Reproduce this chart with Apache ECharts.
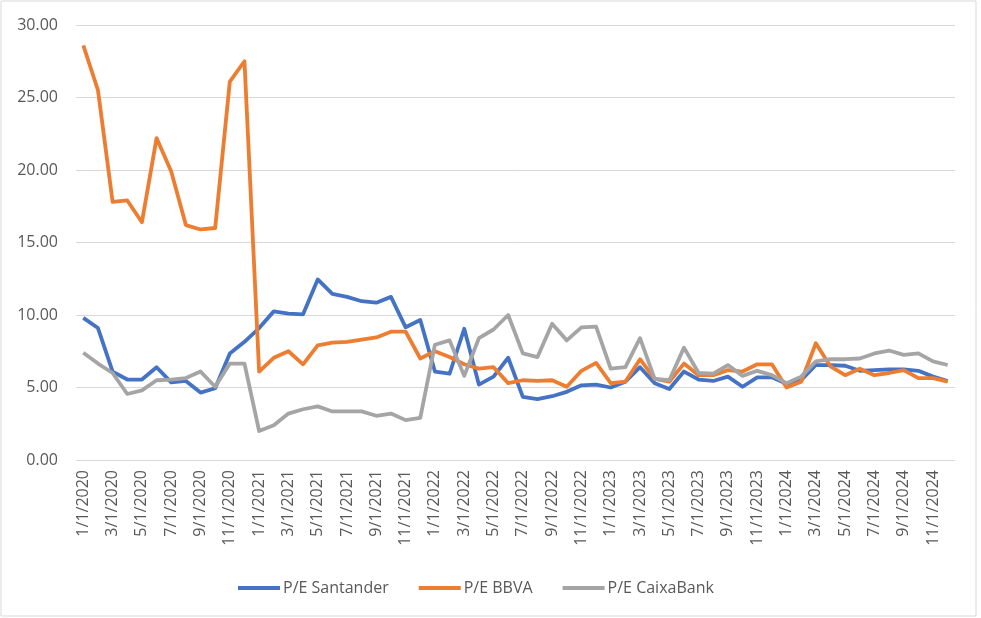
<!DOCTYPE html>
<html>
<head>
<meta charset="utf-8">
<script src="https://cdn.jsdelivr.net/npm/echarts@6/dist/echarts.min.js"></script>
<style>
  html, body { margin: 0; padding: 0; background: #fff; }
  #main { width: 981px; height: 618px; }
</style>
</head>
<body>
<div id="main"></div>
<script>
// monthly dates, 1/1/2020 .. 12/1/2024
var months = [
  '1/1/2020','2/1/2020','3/1/2020','4/1/2020','5/1/2020','6/1/2020','7/1/2020','8/1/2020','9/1/2020','10/1/2020','11/1/2020','12/1/2020',
  '1/1/2021','2/1/2021','3/1/2021','4/1/2021','5/1/2021','6/1/2021','7/1/2021','8/1/2021','9/1/2021','10/1/2021','11/1/2021','12/1/2021',
  '1/1/2022','2/1/2022','3/1/2022','4/1/2022','5/1/2022','6/1/2022','7/1/2022','8/1/2022','9/1/2022','10/1/2022','11/1/2022','12/1/2022',
  '1/1/2023','2/1/2023','3/1/2023','4/1/2023','5/1/2023','6/1/2023','7/1/2023','8/1/2023','9/1/2023','10/1/2023','11/1/2023','12/1/2023',
  '1/1/2024','2/1/2024','3/1/2024','4/1/2024','5/1/2024','6/1/2024','7/1/2024','8/1/2024','9/1/2024','10/1/2024','11/1/2024','12/1/2024'
];

var peSantander = [
  9.8, 9.1, 6.1, 5.55, 5.55, 6.4, 5.35, 5.45, 4.65, 4.95,
  7.35, 8.15, 9.1, 10.25, 10.1, 10.05, 12.45, 11.45, 11.25, 10.95,
  10.85, 11.25, 9.15, 9.65, 6.1, 5.95, 9.05, 5.2, 5.75, 7.05,
  4.35, 4.2, 4.4, 4.7, 5.15, 5.2, 5.0, 5.4, 6.4, 5.3,
  4.9, 6.1, 5.55, 5.45, 5.75, 5.05, 5.7, 5.7, 5.25, 5.5,
  6.55, 6.55, 6.5, 6.15, 6.2, 6.25, 6.25, 6.15, 5.75, 5.45
];

var peBBVA = [
  28.6, 25.5, 17.8, 17.9, 16.4, 22.2, 19.9, 16.2, 15.9, 16.0,
  26.1, 27.5, 6.1, 7.05, 7.5, 6.6, 7.9, 8.1, 8.15, 8.3,
  8.45, 8.85, 8.85, 7.0, 7.5, 7.1, 6.6, 6.3, 6.4, 5.3,
  5.5, 5.45, 5.5, 5.05, 6.15, 6.7, 5.3, 5.4, 6.95, 5.6,
  5.4, 6.65, 5.85, 5.85, 6.2, 6.1, 6.6, 6.6, 5.0, 5.4,
  8.05, 6.45, 5.85, 6.3, 5.85, 6.0, 6.2, 5.65, 5.65, 5.4
];

var peCaixaBank = [
  7.4, 6.65, 6.0, 4.55, 4.8, 5.5, 5.55, 5.65, 6.1, 5.05,
  6.65, 6.65, 2.0, 2.4, 3.2, 3.5, 3.7, 3.35, 3.35, 3.35,
  3.05, 3.2, 2.75, 2.9, 7.95, 8.25, 5.8, 8.4, 9.0, 10.0,
  7.35, 7.1, 9.4, 8.25, 9.15, 9.2, 6.3, 6.4, 8.4, 5.6,
  5.5, 7.75, 6.0, 5.95, 6.55, 5.8, 6.15, 5.85, 5.3, 5.75,
  6.8, 6.95, 6.95, 7.0, 7.35, 7.55, 7.25, 7.35, 6.8, 6.55
];

var seriesNames = ['P/E Santander', 'P/E BBVA', 'P/E CaixaBank'];
var seriesColors = ['#4472C4', '#ED7D31', '#A5A5A5'];

var myChart = echarts.init(document.getElementById('main'));

function lineSeries(idx, values) {
    return {
        name: seriesNames[idx],
        type: 'line',
        data: values,
        symbol: 'none',
        smooth: false,
        lineStyle: { width: 3.8, color: seriesColors[idx], join: 'round' },
        itemStyle: { color: seriesColors[idx] }
    };
}

var option = {
    backgroundColor: '#fff',
    animation: false,
    textStyle: { fontFamily: 'Open Sans' },
    graphic: [{
        type: 'rect',
        shape: { x: 1, y: 1, width: 975, height: 615 },
        style: { fill: 'none', stroke: '#D9D9D9', lineWidth: 1 },
        silent: true
    }],
    grid: { left: 76, right: 26, top: 25, bottom: 158 },
    legend: {
        data: seriesNames,
        bottom: 17,
        left: 233,
        icon: 'rect',
        itemWidth: 42,
        itemHeight: 4,
        itemGap: 30,
        textStyle: { color: '#595959', fontSize: 16, fontFamily: 'Open Sans', padding: [0, 0, 0, -2] }
    },
    xAxis: {
        type: 'category',
        data: months,
        boundaryGap: true,
        axisLine: { show: false },
        axisTick: { show: false },
        axisLabel: {
            interval: 1,
            rotate: 90,
            color: '#595959',
            fontSize: 16,
            margin: 10
        }
    },
    yAxis: {
        type: 'value',
        min: 0,
        max: 30,
        interval: 5,
        axisLine: { show: false },
        axisTick: { show: false },
        splitLine: { lineStyle: { color: '#D9D9D9', width: 1 } },
        axisLabel: {
            color: '#595959',
            fontSize: 16,
            margin: 18,
            formatter: function (v) { return v.toFixed(2); }
        }
    },
    series: [
        lineSeries(0, peSantander),
        lineSeries(1, peBBVA),
        lineSeries(2, peCaixaBank)
    ]
};

myChart.setOption(option);
</script>
</body>
</html>
